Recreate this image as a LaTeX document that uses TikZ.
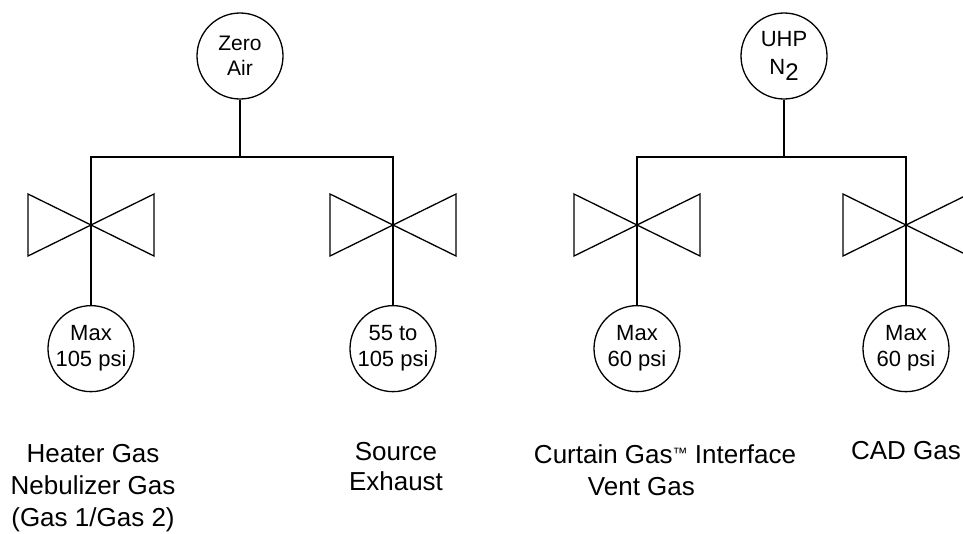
\documentclass[tikz,border=0pt]{standalone}
\usepackage{fontspec}
\setmainfont{Liberation Sans}
\usetikzlibrary{positioning}

\tikzset{
  supply/.style={circle, draw, minimum size=86pt, inner sep=0pt, align=center, font=\fontsize{21}{25}\selectfont},
  gauge/.style={circle, draw, minimum size=86pt, inner sep=0pt, align=center, font=\fontsize{22}{26}\selectfont},
  tag/.style={align=center, font=\fontsize{26}{32}\selectfont},
  valve/.pic={
    \draw (0,0) -- (-63,31) -- (-63,-31) -- cycle;
    \draw (0,0) -- (63,31) -- (63,-31) -- cycle;
  }
}

\begin{document}
\begin{tikzpicture}[x=1pt, y=-1pt, line width=1.3pt]
        \useasboundingbox (0,0) rectangle (963,533);
        % zero air side
        \node [supply] (zero) at (240,56) {Zero\\Air};
        \coordinate (busA) at (240,157);
        \coordinate (vA1) at (91,225);
        \coordinate (vA2) at (393,225);
        \pic at (vA1) {valve};
        \pic at (vA2) {valve};
        \node [gauge, below=80pt of vA1] (gA1) {Max\\105 psi};
        \node [gauge, below=80pt of vA2] (gA2) {55 to\\105 psi};
        \draw (zero) -- (busA);
        \draw (gA1) -- (vA1) |- (busA) -| (vA2) -- (gA2);
        \node [tag] (heater) at (93,488) {Heater Gas\\Nebulizer Gas\\(Gas 1/Gas 2)};
        \node [tag, font=\fontsize{26}{30}\selectfont] (source) at (396,467) {Source\\Exhaust};
        % nitrogen side
        \node [supply, font=\fontsize{22}{28}\selectfont] (nitro) at (784,56) {UHP\\N\raisebox{-0.3em}{\fontsize{24}{24}\selectfont 2}};
        \coordinate (busB) at (784,157);
        \coordinate (vB1) at (637,225);
        \coordinate (vB2) at (906,225);
        \pic at (vB1) {valve};
        \pic at (vB2) {valve};
        \node [gauge, below=80pt of vB1] (gB1) {Max\\60 psi};
        \node [gauge, below=80pt of vB2] (gB2) {Max\\60 psi};
        \draw (nitro) -- (busB);
        \draw (gB1) -- (vB1) |- (busB) -| (vB2) -- (gB2);
        \node [tag, align=left, anchor=west] (curtain) at (530,470) {Curtain Gas{\fontsize{15}{15}\selectfont\raisebox{0.35em}{™}} Interface\\\hspace*{54pt}Vent Gas};
        \node [tag] (cad) at (906,451) {CAD Gas};
    \end{tikzpicture}
\end{document}
